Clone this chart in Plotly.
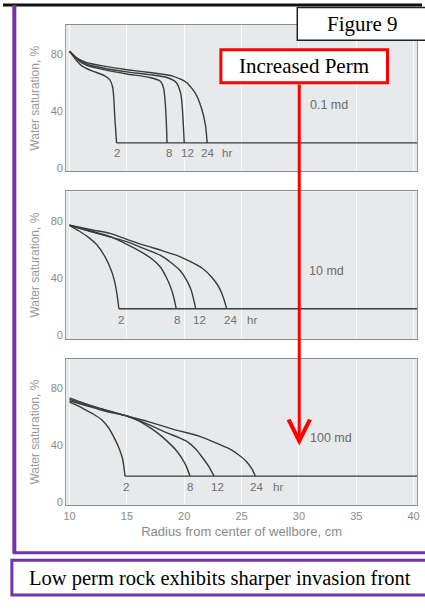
import plotly.graph_objects as go

W, H = 425, 615

# ---------------- data ----------------
hours = ["2", "8", "12", "24"]
panel_labels = ["0.1 md", "10 md", "100 md"]

# panel 1 : 0.1 md
p1_x = {
    "2": [10, 10.5, 11.1, 12, 13, 13.5, 13.75, 13.85, 13.95, 14.1],
    "8": [10, 10.7, 11.5, 13, 15, 17, 17.9, 18.2, 18.35, 18.45, 18.5],
    "12": [10, 10.7, 11.5, 13, 15, 17, 18.5, 19.3, 19.7, 19.85, 20.0],
    "24": [10, 10.7, 11.5, 13, 15, 17, 19, 20.2, 21, 21.5, 21.85, 22.0],
}
p1_y = {
    "2": [82, 76.5, 71.5, 68, 65, 62, 57, 50, 35, 17.5],
    "8": [82, 76, 72, 69, 66, 63.5, 61, 56, 45, 30, 17.5],
    "12": [82, 76.5, 73, 70, 67.5, 65.5, 63.5, 60, 52, 40, 17.5],
    "24": [82, 77, 74, 71.5, 69, 67, 64.5, 60, 52, 42, 30, 17.5],
}
p1_base = ([14.1, 40.4], [17.5, 17.5])
p1_lab_x = [14.1, 18.7, 20.3, 22.0, 23.7]

# panel 2 : 10 md
p2_x = {
    "2": [10, 10.8, 11.6, 12.4, 13.1, 13.6, 13.9, 14.15, 14.3],
    "8": [10, 11.5, 13.6, 15, 16.5, 17.3, 17.9, 18.4, 18.8, 19.1, 19.3],
    "12": [10, 12, 13.6, 15.06, 16.5, 17.9, 18.8, 19.6, 20.2, 20.6, 20.85, 21.0],
    "24": [10, 12, 13.6, 15, 16.5, 18, 19.3, 20.5, 21.6, 22.4, 23.0, 23.4, 23.7],
}
p2_y = {
    "2": [76.8, 73, 68.7, 63, 54.7, 46, 38.5, 28, 18.5],
    "8": [76.8, 73.5, 68.7, 63.5, 57, 52.5, 47.8, 41, 33.9, 26, 18.5],
    "12": [76.8, 72, 68.5, 65.2, 60.5, 55.9, 51, 45.5, 38.5, 31.6, 24, 18.5],
    "24": [76.8, 73.5, 71, 67, 62.9, 59.3, 55.9, 51.5, 46.6, 40.5, 33.9, 26.5, 18.5],
}
p2_base = ([14.3, 40.4], [18.5, 18.5])
p2_lab_x = [14.5, 19.4, 21.3, 24.0, 25.9]

# panel 3 : 100 md
p3_x = {
    "2": [10, 10.7, 11.35, 12.1, 12.78, 13.4, 13.9, 14.3, 14.6, 14.75, 14.83],
    "8": [10, 11, 12, 13.5, 15.06, 16, 17.05, 17.8, 18.5, 19.2, 19.76, 20.2, 20.5],
    "12": [10, 11, 12.5, 15.06, 16.8, 18.5, 19.4, 20.2, 21, 21.6, 22.2, 22.6],
    "24": [10, 11.5, 13, 15.06, 17, 19, 21.3, 23, 24, 24.7, 25.4, 25.9, 26.2],
}
p3_y = {
    "2": [70, 67.5, 64.8, 61.5, 57.8, 52, 44.9, 38, 30.9, 24, 18],
    "8": [72, 69.5, 67, 63.5, 60.1, 57, 51.9, 47.5, 42.6, 37, 30.9, 24.5, 18],
    "12": [73, 70, 66, 60.1, 54.5, 48.4, 45.5, 42.6, 37, 30.9, 24, 18],
    "24": [71, 67.5, 64, 60.1, 56, 51, 46.1, 40.5, 37, 33.2, 28.5, 23, 18],
}
p3_base = ([14.83, 40.4], [18, 18])
p3_lab_x = [14.9, 20.5, 22.9, 26.3, 28.2]

label_y = 10.4
md_x = [32.6, 32.4, 32.8]
md_y = [44, 45, 45]

x_ticks = [10, 15, 20, 25, 30, 35, 40]
y_ticks = [0, 40, 80]

title_text = "Figure 9"
arrow_text = "Increased Perm"
caption_text = "Low perm rock exhibits sharper invasion front"
x_title = "Radius from center of wellbore, cm"
y_title = "Water saturation, %"

# ---------------- layout helpers ----------------
def px(x):
    return x / W

def py(y):
    return 1 - y / H

panels = [
    (p1_x, p1_y, p1_base, p1_lab_x, (25, 172)),
    (p2_x, p2_y, p2_base, p2_lab_x, (192, 340)),
    (p3_x, p3_y, p3_base, p3_lab_x, (360, 507)),
]

LINE = "#3b3b3b"
GRAY_TXT = "#8a8a8a"
LABEL_TXT = "#707070"
SANS = "Liberation Sans, Arial, sans-serif"
SERIF = "Liberation Serif, Times New Roman, serif"
PURPLE = "#7433a8"

fig = go.Figure()
annotations = []
layout_axes = {}

for i, (cx, cy, base, labx, (top, bot)) in enumerate(panels):
    n = i + 1
    xa = "x" if n == 1 else f"x{n}"
    ya = "y" if n == 1 else f"y{n}"
    for h in hours:
        fig.add_trace(go.Scatter(
            x=cx[h], y=cy[h], mode="lines", xaxis=xa, yaxis=ya,
            line=dict(color=LINE, width=1.4, shape="spline", smoothing=0.6),
            showlegend=False, hoverinfo="skip"))
    fig.add_trace(go.Scatter(
        x=base[0], y=base[1], mode="lines", xaxis=xa, yaxis=ya,
        line=dict(color=LINE, width=1.4), showlegend=False, hoverinfo="skip"))
    for lab, lx in zip(hours + ["hr"], labx):
        annotations.append(dict(
            x=lx, y=label_y, xref=xa, yref=ya, text=lab, showarrow=False,
            xanchor="center", yanchor="middle",
            font=dict(family=SANS, size=11.5, color=LABEL_TXT)))
    annotations.append(dict(
        x=md_x[i], y=md_y[i], xref=xa, yref=ya, text=panel_labels[i],
        showarrow=False, xanchor="center", yanchor="middle",
        font=dict(family=SANS, size=12.5, color="#6a6a6a")))

    xkey = "xaxis" if n == 1 else f"xaxis{n}"
    ykey = "yaxis" if n == 1 else f"yaxis{n}"
    layout_axes[xkey] = dict(
        domain=[px(64), px(420)], anchor=ya, range=[9.7, 40.3],
        tickvals=x_ticks, showticklabels=(n == 3),
        tickfont=dict(family=SANS, size=11, color=GRAY_TXT),
        showgrid=True, gridcolor="#fbfbfb", gridwidth=1,
        zeroline=False, showline=True, linecolor="#8c8c8c", linewidth=1,
        mirror=True, ticks="",
        title=dict(text=x_title if n == 3 else "",
                   font=dict(family=SANS, size=13, color=GRAY_TXT), standoff=6),
    )
    layout_axes[ykey] = dict(
        domain=[py(bot), py(top)], anchor=xa, range=[-2.6, 100.5],
        tickvals=y_ticks, tickfont=dict(family=SANS, size=11, color=GRAY_TXT),
        showgrid=False, zeroline=False, showline=True, linecolor="#9a9a9a",
        linewidth=1, mirror=True, ticks="",
        title=dict(text=y_title, font=dict(family=SANS, size=12, color="#9a9a9a"),
                   standoff=8),
    )

shapes = [
    # black top rule
    dict(type="line", xref="paper", yref="paper", x0=0, x1=1, y0=py(5), y1=py(5),
         line=dict(color="#111111", width=3)),
    # purple frame (left + bottom)
    dict(type="line", xref="paper", yref="paper", x0=px(11.5), x1=px(11.5),
         y0=py(5), y1=py(555), line=dict(color=PURPLE, width=4)),
    dict(type="line", xref="paper", yref="paper", x0=px(10), x1=1.01,
         y0=py(554.5), y1=py(554.5), line=dict(color=PURPLE, width=3)),
    # caption box
    dict(type="rect", xref="paper", yref="paper", x0=px(9), x1=1.02,
         y0=py(597), y1=py(562), line=dict(color=PURPLE, width=3),
         fillcolor="white"),
    # figure label box
    dict(type="rect", xref="paper", yref="paper", x0=px(298.5), x1=1.02,
         y0=py(40.5), y1=py(7.5), line=dict(color="#222222", width=1.5),
         fillcolor="white"),
    # increased perm box
    dict(type="rect", xref="paper", yref="paper", x0=px(221), x1=px(390),
         y0=py(83), y1=py(50), line=dict(color="#ff0000", width=3),
         fillcolor="white"),
]

annotations += [
    dict(x=px(365), y=py(24), xref="paper", yref="paper", text=title_text,
         showarrow=False, xanchor="center", yanchor="middle",
         font=dict(family=SERIF, size=21, color="black")),
    dict(x=px(305.5), y=py(66.5), xref="paper", yref="paper", text=arrow_text,
         showarrow=False, xanchor="center", yanchor="middle",
         font=dict(family=SERIF, size=21, color="black")),
    dict(x=px(220), y=py(580), xref="paper", yref="paper", text=caption_text,
         showarrow=False, xanchor="center", yanchor="middle",
         font=dict(family=SERIF, size=20.5, color="black")),
    # red arrow
    dict(x=px(300.5), y=py(447), ax=0, ay=-(447 - 84.5), xref="paper",
         yref="paper", axref="pixel", ayref="pixel", text="", showarrow=True,
         arrowhead=5, arrowsize=1.4, arrowwidth=3, arrowcolor="#ff0000",
         standoff=0, startstandoff=0),
]

fig.update_layout(
    width=W, height=H, margin=dict(l=0, r=0, t=0, b=0),
    paper_bgcolor="white", plot_bgcolor="#e7e9eb",
    shapes=shapes, annotations=annotations, showlegend=False,
    **layout_axes,
)

fig.write_html(
    "out.html",
    config={"displayModeBar": False},
    post_script="document.body.style.margin='0';document.body.style.overflow='hidden';",
)
